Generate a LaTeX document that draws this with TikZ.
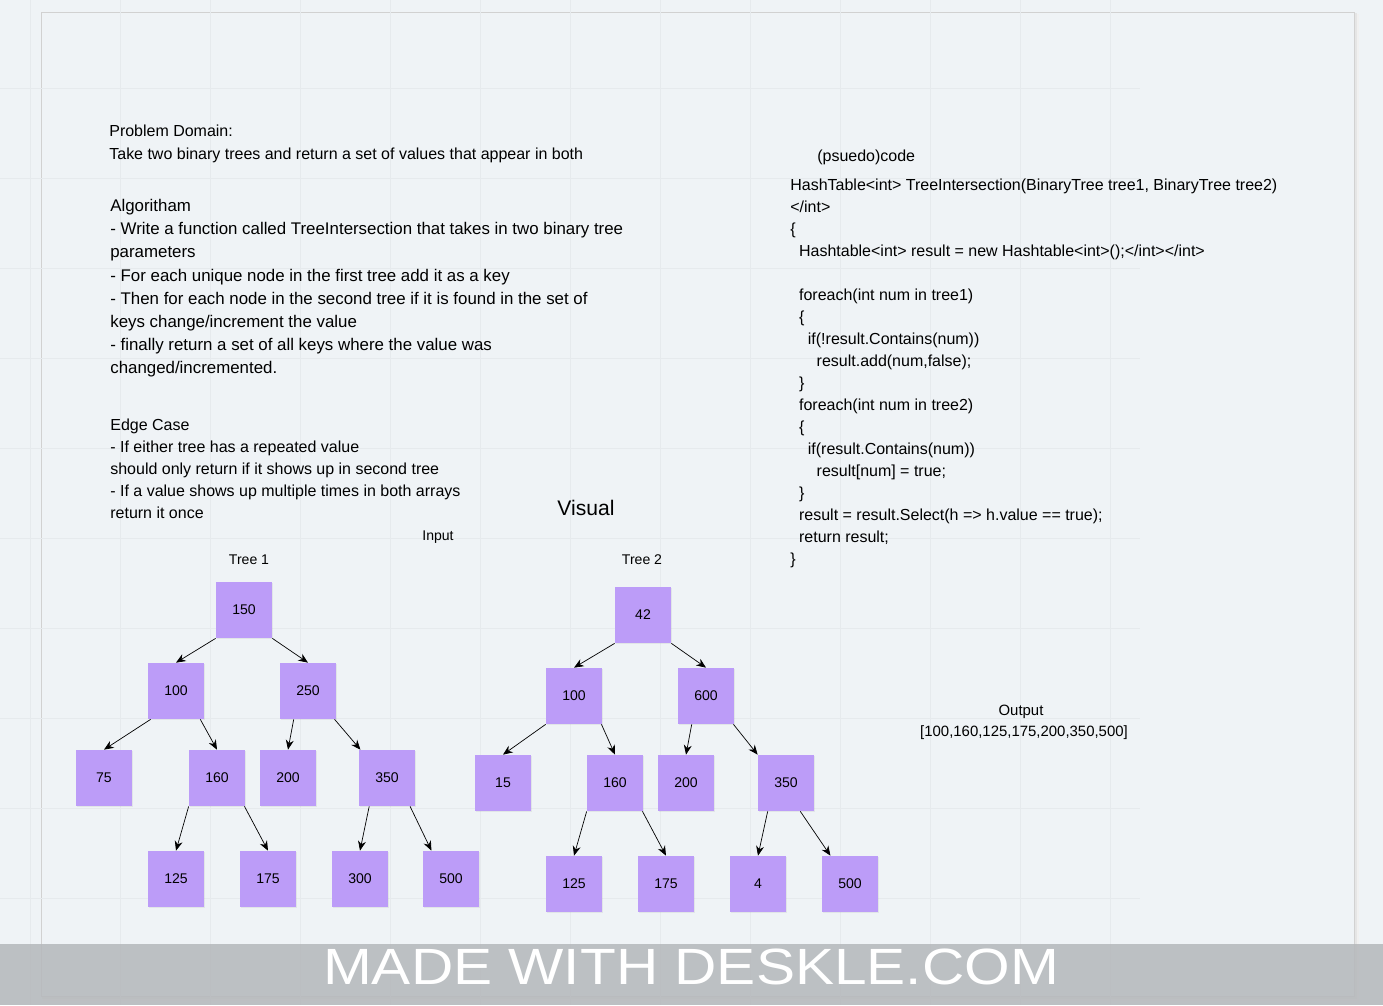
\documentclass[tikz,border=0pt]{standalone}
\usepackage{fontspec}
\setmainfont{Liberation Sans}
\usetikzlibrary{arrows.meta,shadows}
\definecolor{board}{HTML}{EFF3F6}
\definecolor{gridline}{HTML}{E6EAED}
\definecolor{tnode}{HTML}{BC9CF8}
\definecolor{banner}{HTML}{B6B9BC}

\begin{document}
\begin{tikzpicture}[x=0.02cm,y=-0.02cm,
  tn/.style={fill=tnode,minimum size=1.12cm,inner sep=0pt,font=\fontsize{8}{8}\selectfont,
    drop shadow={opacity=0.12,shadow xshift=0.6pt,shadow yshift=-0.6pt}},
  txt/.style={anchor=north west,inner sep=0pt,align=left,font=\fontsize{9.1}{12.5}\selectfont},
  lbl/.style={inner sep=0pt,font=\fontsize{8}{8}\selectfont},
  edge/.style={-{Stealth[length=5.5pt,width=4.5pt]},thin}]
\useasboundingbox (0,0) rectangle (1383,1005);
% board and paper
\fill[board] (0,0) rectangle (1383,1005);
\fill[black!6] (43,14) rectangle (1359,1001);
\fill[black!10] (42,13) rectangle (1357,999);
\draw[fill=board,draw=black!18] (41,12) rectangle (1354,996);
\foreach \x in {30,120,...,1110} \draw[gridline,very thin] (\x,0) -- (\x,1005);
\foreach \y in {88,178,...,898} \draw[gridline,very thin] (0,\y) -- (1140,\y);

% left text
\node[txt,font=\fontsize{9.1}{12.6}\selectfont] (domain) at (109,125)
  {Problem Domain:\\Take two binary trees and return a set of values that appear in both};
\node[txt,font=\fontsize{9.6}{13.2}\selectfont] (algo) at (110,199)
  {Algoritham\\
   - Write a function called TreeIntersection that takes in two binary tree\\
   parameters\\
   - For each unique node in the first tree add it as a key\\
   - Then for each node in the second tree if it is found in the set of\\
   keys change/increment the value\\
   - finally return a set of all keys where the value was\\
   changed/incremented.};
\node[txt] (edgecase) at (110,419)
  {Edge Case\\
   - If either tree has a repeated value\\
   should only return if it shows up in second tree\\
   - If a value shows up multiple times in both arrays\\
   return it once};

% code
\node[txt] (pcode) at (817,150) {(psuedo)code};
\node[txt] (code) at (790,179)
  {HashTable<int> TreeIntersection(BinaryTree tree1, BinaryTree tree2)\\
   </int>\\
   \{\\
   \hspace*{5pt}Hashtable<int> result = new Hashtable<int>();</int></int>\\
   \mbox{}\\
   \hspace*{5pt}foreach(int num in tree1)\\
   \hspace*{5pt}\{\\
   \hspace*{10pt}if(!result.Contains(num))\\
   \hspace*{15pt}result.add(num,false);\\
   \hspace*{5pt}\}\\
   \hspace*{5pt}foreach(int num in tree2)\\
   \hspace*{5pt}\{\\
   \hspace*{10pt}if(result.Contains(num))\\
   \hspace*{15pt}result[num] = true;\\
   \hspace*{5pt}\}\\
   \hspace*{5pt}result = result.Select(h => h.value == true);\\
   \hspace*{5pt}return result;\\
   \}};

% labels
\node[lbl,font=\fontsize{12}{12}\selectfont] (visual) at (586,508) {Visual};
\node[lbl] (input) at (438,537) {Input};
\node[lbl] (tree1) at (249,560) {Tree 1};
\node[lbl] (tree2) at (642,560) {Tree 2};
\node[lbl,font=\fontsize{8.5}{8.5}\selectfont] (output) at (1021,712) {Output};
\node[lbl,font=\fontsize{8.5}{8.5}\selectfont] (outlist) at (1024,733) {[100,160,125,175,200,350,500]};

% tree 1
\node[tn] (p150) at (244,610) {150};
\node[tn] (p100) at (176,691) {100};
\node[tn] (p250) at (308,691) {250};
\node[tn] (p75)  at (104,778) {75};
\node[tn] (p160) at (217,778) {160};
\node[tn] (p200) at (288,778) {200};
\node[tn] (p350) at (387,778) {350};
\node[tn] (p125) at (176,879) {125};
\node[tn] (p175) at (268,879) {175};
\node[tn] (p300) at (360,879) {300};
\node[tn] (p500) at (451,879) {500};
\draw[edge] (p150.south west) -- (p100.north);
\draw[edge] (p150.south east) -- (p250.north);
\draw[edge] ([xshift=1.7pt]p100.south west) -- (p75.north);
\draw[edge] ([xshift=-2.3pt]p100.south east) -- (p160.north);
\draw[edge] ([xshift=8pt]p250.south west) -- (p200.north);
\draw[edge] ([xshift=-1pt]p250.south east) -- ([xshift=1pt]p350.north west);
\draw[edge] (p160.south west) -- (p125.north);
\draw[edge] ([xshift=-0.5pt]p160.south east) -- (p175.north);
\draw[edge] ([xshift=6pt]p350.south west) -- (p300.north);
\draw[edge] ([xshift=-3pt]p350.south east) -- ([xshift=5pt]p500.north west);

% tree 2
\node[tn] (q42)  at (643,615) {42};
\node[tn] (q100) at (574,696) {100};
\node[tn] (q600) at (706,696) {600};
\node[tn] (q15)  at (503,783) {15};
\node[tn] (q160) at (615,783) {160};
\node[tn] (q200) at (686,783) {200};
\node[tn] (q350) at (786,783) {350};
\node[tn] (q125) at (574,884) {125};
\node[tn] (q175) at (666,884) {175};
\node[tn] (q4)   at (758,884) {4};
\node[tn] (q500) at (850,884) {500};
\draw[edge] (q42.south west) -- (q100.north);
\draw[edge] (q42.south east) -- (q600.north);
\draw[edge] (q100.south west) -- (q15.north);
\draw[edge] ([xshift=-0.5pt]q100.south east) -- (q160.north);
\draw[edge] ([xshift=8pt]q600.south west) -- (q200.north);
\draw[edge] ([xshift=-0.5pt]q600.south east) -- (q350.north west);
\draw[edge] (q160.south west) -- (q125.north);
\draw[edge] ([xshift=-0.5pt]q160.south east) -- (q175.north);
\draw[edge] ([xshift=5.7pt]q350.south west) -- (q4.north);
\draw[edge] ([xshift=-8pt]q350.south east) -- ([xshift=5pt]q500.north west);

% banner
\fill[banner,opacity=0.88] (0,944) rectangle (1383,1005);
\node[anchor=base,inner sep=0pt,text=white,font=\fontsize{29}{29}\selectfont] (made) at (691,984)
  {\scalebox{1.15}[1]{MADE WITH DESKLE.COM}};
\end{tikzpicture}
\end{document}
